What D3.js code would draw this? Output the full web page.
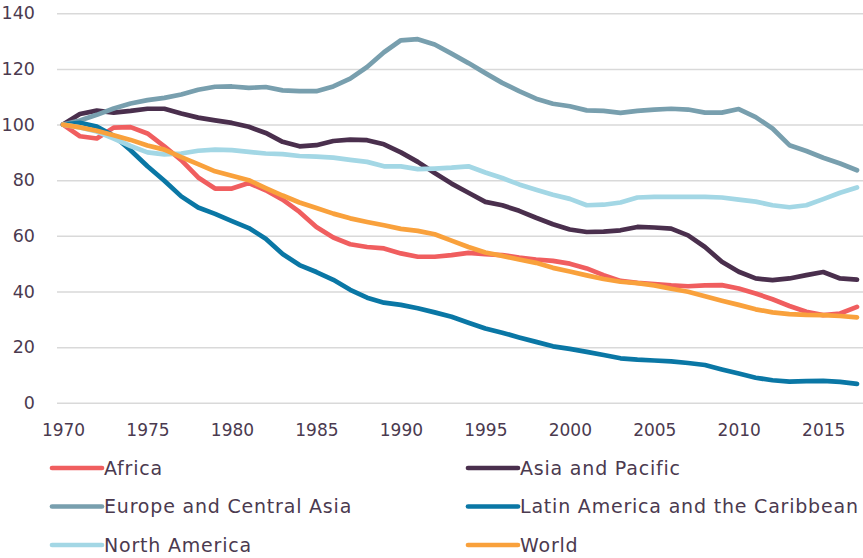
<!DOCTYPE html>
<html>
<head>
<meta charset="utf-8">
<script src="https://cdn.jsdelivr.net/npm/d3@7"></script>
<style>
  body { margin: 0; background: #fff; }
  #graf text { font-family: "DejaVu Sans", sans-serif; fill: #4b3a4f; }
  .grid line { stroke: #d9d9d9; stroke-width: 1.5; }
  .serie { fill: none; stroke-width: 4.7; stroke-linejoin: round; stroke-linecap: round; }
</style>
</head>
<body>
<div id="graf"></div>
<script>
const anios = d3.range(1970, 2018)

const africa = [100, 95.8, 95, 98.9, 99.1, 96.8, 92.2, 87.2, 81, 77, 77, 79, 76.4, 73, 68.6, 63.2, 59.4, 57, 56, 55.5,
  53.7, 52.5, 52.5, 53.1, 53.9, 53.4, 53.1, 52.2, 51.5, 51, 50, 48.3, 45.9, 43.8, 43.1, 42.7, 42.2, 41.9, 42.2, 42.3,
  41.1, 39.3, 37.2, 34.8, 32.7, 31.5, 32.1, 34.5]
const asia = [100, 103.8, 105, 104.3, 104.9, 105.7, 105.7, 104, 102.5, 101.5, 100.6, 99.2, 97, 93.8, 92.2, 92.6, 94.1, 94.6, 94.4, 92.9,
  90, 86.6, 82.6, 78.8, 75.5, 72.2, 71, 69, 66.5, 64.2, 62.3, 61.4, 61.5, 62, 63.2, 63, 62.6, 60.2, 56, 50.7,
  47.1, 44.7, 44.1, 44.7, 45.9, 47, 44.7, 44.3]
const europa = [100, 101.5, 103.5, 105.8, 107.6, 108.8, 109.6, 110.8, 112.5, 113.6, 113.7, 113.2, 113.5, 112.3, 112, 112, 113.7, 116.5, 120.7, 126,
  130.3, 130.7, 128.8, 125.5, 122.1, 118.5, 115, 112, 109.3, 107.5, 106.6, 105.1, 104.9, 104.2, 104.9, 105.4, 105.7, 105.4, 104.3, 104.3,
  105.6, 102.7, 98.6, 92.6, 90.5, 88.1, 86, 83.6]
const latam = [100, 100.6, 99.3, 96, 90.8, 85, 79.8, 74.2, 70.2, 67.9, 65.3, 62.8, 59, 53.5, 49.5, 47, 44.2, 40.6, 37.8, 36,
  35.2, 34, 32.5, 30.9, 28.8, 26.7, 25.2, 23.5, 21.9, 20.3, 19.4, 18.3, 17.2, 16, 15.5, 15.2, 14.9, 14.3, 13.6, 12,
  10.5, 9, 8.1, 7.6, 7.8, 7.9, 7.5, 6.8]
const norteamerica = [100, 99, 97.5, 95, 92.3, 90, 89.3, 89.6, 90.6, 91, 90.8, 90.2, 89.6, 89.4, 88.7, 88.5, 88.1, 87.3, 86.6, 85,
  85, 84, 84.2, 84.5, 85, 82.8, 80.8, 78.5, 76.6, 74.8, 73.3, 71, 71.2, 72, 73.8, 74, 74, 74, 74, 73.8,
  73, 72.3, 71, 70.3, 71, 73.2, 75.5, 77.4]
const mundo = [100, 99, 97.8, 96.2, 94.5, 92.5, 91, 88.3, 85.8, 83.2, 81.6, 80, 77.2, 74.5, 72, 70, 68, 66.3, 65, 63.8,
  62.5, 61.8, 60.6, 58.3, 56, 54, 52.8, 51.5, 50.3, 48.5, 47.2, 45.8, 44.5, 43.5, 43, 42.2, 41, 39.9, 38.3, 36.7,
  35.2, 33.6, 32.5, 31.9, 31.6, 31.5, 31.2, 30.7]

const nombres = ['Africa', 'Asia and Pacific', 'Europe and Central Asia', 'Latin America and the Caribbean', 'North America', 'World']
const colores = ['#f05e5f', '#4a2f4d', '#789fae', '#0a77a5', '#a3d7e5', '#f9a13c']
const yTicks = [0, 20, 40, 60, 80, 100, 120, 140]
const xTicks = [1970, 1975, 1980, 1985, 1990, 1995, 2000, 2005, 2010, 2015]

const series = [africa, asia, europa, latam, norteamerica, mundo].map((valores, i) => ({
  nombre: nombres[i],
  color: colores[i],
  valores: valores.map((v, j) => ({ anio: anios[j], valor: v }))
}))

const ancho = 863
const alto = 558
const gridIzq = 57

const svg = d3.select('#graf')
  .append('svg')
  .attr('width', ancho)
  .attr('height', alto)

const x = d3.scaleLinear().domain([1970, 2017]).range([63, 857])
const y = d3.scaleLinear().domain([0, 140]).range([402.8, 13.3])

const yAxis = d3.axisLeft(y)
  .tickValues(yTicks)
  .tickSize(-(ancho - gridIzq))
  .tickPadding(22)

svg.append('g')
  .attr('class', 'grid')
  .attr('transform', `translate(${gridIzq}, 0)`)
  .call(yAxis)
  .call(g => g.select('.domain').remove())
  .selectAll('text')
  .style('font-size', '17.5px')

const xAxis = d3.axisBottom(x)
  .tickValues(xTicks)
  .tickFormat(d3.format('d'))
  .tickSize(0)
  .tickPadding(21)

svg.append('g')
  .attr('transform', `translate(0, ${y(0)})`)
  .call(xAxis)
  .call(g => g.select('.domain').remove())
  .selectAll('text')
  .style('font-size', '17px')

const linea = d3.line()
  .x(d => x(d.anio))
  .y(d => y(d.valor))

svg.selectAll('.serie')
  .data(series)
  .enter()
  .append('path')
  .attr('class', 'serie')
  .attr('stroke', d => d.color)
  .attr('d', d => linea(d.valores))

// leyenda en dos columnas
const leyenda = svg.selectAll('.leyenda')
  .data(series)
  .enter()
  .append('g')
  .attr('class', 'leyenda')
  .attr('transform', (d, i) => `translate(${i % 2 === 0 ? 52 : 468}, ${468 + Math.floor(i / 2) * 38.5})`)

leyenda.append('line')
  .attr('x1', 0)
  .attr('x2', 50)
  .attr('stroke', d => d.color)
  .attr('stroke-width', 4.7)
  .attr('stroke-linecap', 'round')

leyenda.append('text')
  .attr('x', 52)
  .attr('dy', '0.36em')
  .style('font-size', '19px')
  .style('letter-spacing', '0.8px')
  .text(d => d.nombre)
</script>
</body>
</html>
